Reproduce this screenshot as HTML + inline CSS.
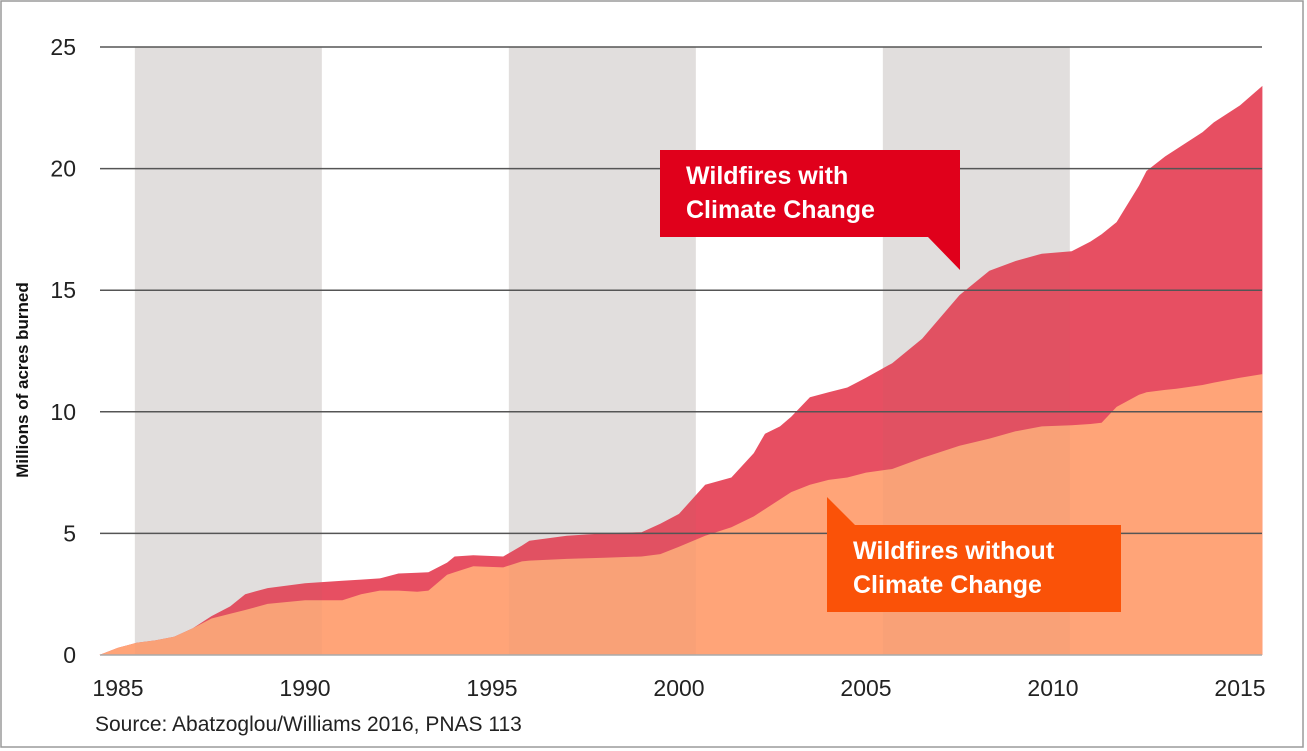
<!DOCTYPE html>
<html><head><meta charset="utf-8"><style>
html,body{margin:0;padding:0;background:#fff;}
svg{display:block;font-family:"Liberation Sans",sans-serif;}
</style></head><body>
<svg id="chart" width="1307" height="751" viewBox="0 0 1307 751" xmlns="http://www.w3.org/2000/svg">
<rect x="1" y="1" width="1302" height="746" fill="#fff" stroke="#9a9a9a" stroke-width="1.5"/>
<g id="bands"></g>
<g id="areas"></g>
<g id="grid"></g>
<g id="yticks"></g>
<g id="xticks"></g>
<text transform="translate(28,380) rotate(-90)" text-anchor="middle" font-size="17" font-weight="bold" fill="#111">Millions of acres burned</text>
<text x="95" y="731" font-size="21" fill="#222">Source: Abatzoglou/Williams 2016, PNAS 113</text>
<g>
<path d="M660,150 H960 V270 L928,237 H660 Z" fill="#e0001b"/>
<text x="686" y="184" font-size="25" font-weight="bold" fill="#fff">Wildfires with</text>
<text x="686" y="218" font-size="25" font-weight="bold" fill="#fff">Climate Change</text>
</g>
<g>
<path d="M827,497 L855,525 H1121 V612 H827 Z" fill="#fa5208"/>
<text x="853" y="559" font-size="25" font-weight="bold" fill="#fff">Wildfires without</text>
<text x="853" y="593" font-size="25" font-weight="bold" fill="#fff">Climate Change</text>
</g>
</svg>
<script>
const years = [1984.5,1985.0,1985.5,1986,1986.5,1987,1987.5,1988,1988.4,1989,1990,1991,1991.5,1992,1992.5,1993,1993.3,1993.8,1994,1994.5,1995.3,1995.8,1996,1997,1998,1999,1999.5,2000,2000.7,2001.4,2002,2002.3,2002.7,2003,2003.5,2004,2004.5,2005,2005.7,2006.5,2007.5,2008.3,2009,2009.7,2010.5,2011,2011.3,2011.7,2012.3,2012.5,2013,2013.3,2014,2014.3,2015,2015.6];
const withClimate = [0,0.3,0.5,0.6,0.75,1.1,1.6,2.0,2.5,2.75,2.95,3.05,3.1,3.15,3.35,3.38,3.4,3.8,4.05,4.1,4.05,4.5,4.7,4.9,5.0,5.05,5.4,5.8,7.0,7.3,8.3,9.1,9.4,9.8,10.6,10.8,11.0,11.4,12.0,13.0,14.8,15.8,16.2,16.5,16.6,17.0,17.3,17.8,19.3,19.9,20.5,20.8,21.5,21.9,22.6,23.4];
const withoutClimate = [0,0.3,0.5,0.6,0.75,1.1,1.5,1.7,1.85,2.1,2.25,2.25,2.5,2.65,2.65,2.6,2.65,3.3,3.4,3.65,3.6,3.85,3.88,3.95,4.0,4.05,4.15,4.45,4.9,5.25,5.7,6.0,6.4,6.7,7.0,7.2,7.3,7.5,7.65,8.1,8.6,8.9,9.2,9.4,9.45,9.5,9.55,10.2,10.7,10.8,10.9,10.95,11.1,11.2,11.4,11.55];
const yTicks = [0,5,10,15,20,25];
const xTicks = [1985,1990,1995,2000,2005,2010,2015];
const bandStarts = [1985.45,1995.45,2005.45];
const NS='http://www.w3.org/2000/svg';
const X = y => 118 + (y-1985)*37.4;
const Y = v => 655 - v*24.32;
function mk(tag, attrs, parent){const e=document.createElementNS(NS,tag);for(const k in attrs)e.setAttribute(k,attrs[k]);parent.appendChild(e);return e;}
const bands=document.getElementById('bands');
bandStarts.forEach(b=>{
  const r=mk('rect',{x:X(b),y:Y(25),width:X(b+5)-X(b),height:Y(0)-Y(25),fill:'#e6e6e6'},bands);
  
  
});
const areas=document.getElementById('areas');
function areaPath(vals){let d='M'+X(years[0])+','+Y(0);years.forEach((yr,i)=>{d+=' L'+X(yr).toFixed(1)+','+Y(vals[i]).toFixed(1);});d+=' L'+X(years[years.length-1])+','+Y(0)+' Z';return d;}
const a1=mk('path',{d:areaPath(withClimate),fill:'#e6465a','fill-opacity':'0.95'},areas);


const a2=mk('path',{d:areaPath(withoutClimate),fill:'#ffa478','fill-opacity':'1'},areas);


bandStarts.forEach(b=>{
  const r=mk('rect',{x:X(b),y:Y(25),width:X(b+5)-X(b),height:Y(0)-Y(25),fill:'#b08070','fill-opacity':'0.07'},areas);
  
  
});
const grid=document.getElementById('grid'), yt=document.getElementById('yticks'), xt=document.getElementById('xticks');
yTicks.forEach(v=>{
  const l=mk('line',{x1:100,x2:1262,y1:Y(v),y2:Y(v),stroke:v===0?'#aaa':'#555','stroke-width':1.5},grid);
  
  
  const t=mk('text',{x:76,y:Y(v)+8,'text-anchor':'end','font-size':23,fill:'#222'},yt);
  t.textContent=v;
  
  
});
xTicks.forEach(v=>{
  const t=mk('text',{x:X(v),y:696,'text-anchor':'middle','font-size':23,fill:'#222'},xt);
  t.textContent=v;
  
  
});
</script>
</body></html>
